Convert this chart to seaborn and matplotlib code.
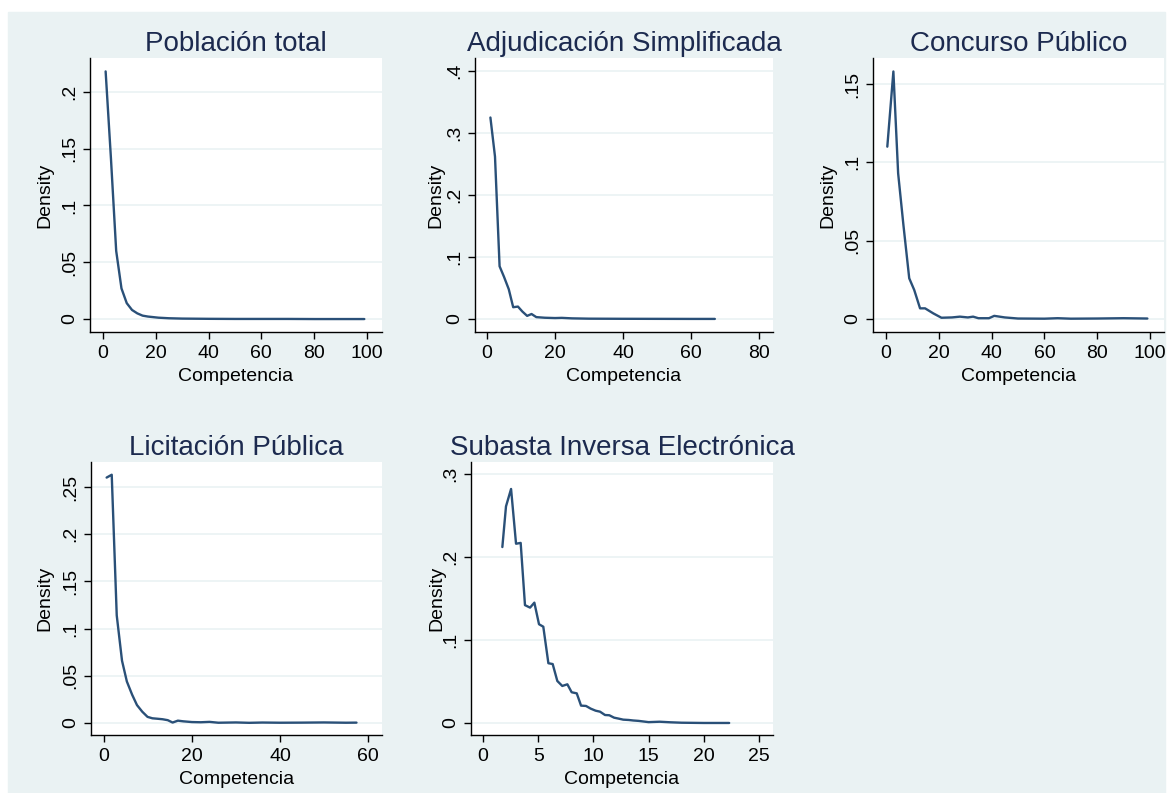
import matplotlib
matplotlib.use("Agg")
import matplotlib.pyplot as plt
from matplotlib.patches import Rectangle
from matplotlib.ticker import FuncFormatter
import seaborn as sns

sns.set_theme(style="white")
plt.rcParams['font.family'] = ['Liberation Sans', 'DejaVu Sans']

# Density curves of "Competencia" by procurement type
pob_x = [1, 3, 5, 7, 9, 11, 13, 15, 17, 19, 21, 25, 30, 40, 50, 60, 70, 80, 90, 99]
pob_y = [.218, .142, .06, .027, .014, .008, .005, .003, .0022, .0017, .0012,
         .0007, .0004, .0002, .0001, .0001, .0001, 0, 0, 0]

adj_x = [1.0, 2.35, 3.7, 5.0, 6.4, 7.7, 9.1, 10.4, 11.8, 13.1, 14.5, 17, 20,
         22, 25, 30, 40, 50, 60, 67]
adj_y = [.325, .262, .085, .068, .048, .019, .02, .012, .005, .008, .003, .002,
         .0015, .0018, .001, .0005, .0003, .0002, .0001, .0001]

con_x = [0.5, 2.8, 4.6, 6.6, 8.8, 10.7, 12.9, 14.8, 17.9, 21, 25, 28, 31, 33,
         35, 39, 41, 45, 50, 60, 65, 70, 80, 90, 99]
con_y = [.110, .158, .093, .06, .026, .0185, .0068, .0068, .0036, .0008, .001,
         .0015, .001, .0015, .0005, .0005, .002, .001, .0003, .0002, .0005,
         .0002, .0003, .0005, .0003]

lic_x = [0.6, 1.76, 2.9, 4.1, 5.2, 6.4, 7.5, 8.7, 9.9, 11.0, 12.2, 13.3, 14.5,
         15.6, 16.8, 18, 20, 22, 24, 26, 30, 33, 36, 40, 45, 50, 55, 57.4]
lic_y = [.26, .263, .114, .066, .044, .03, .019, .012, .0065, .005, .0045, .004,
         .003, .0005, .0025, .0018, .001, .0008, .0012, .0003, .0006, .0002,
         .0005, .0003, .0004, .0006, .0003, .0004]

sub_x = [1.75, 2.08, 2.54, 2.99, 3.41, 3.80, 4.26, 4.65, 5.07, 5.46, 5.92, 6.31,
         6.73, 7.18, 7.64, 8.03, 8.49, 8.88, 9.33, 9.75, 10.2, 10.6, 11.05,
         11.44, 11.87, 12.3, 12.7, 13.2, 13.6, 14.1, 15.0, 16.0, 17.0, 18.0,
         20.0, 22.3]
sub_y = [.212, .261, .282, .216, .217, .142, .139, .145, .119, .116, .072, .071,
         .0506, .0446, .0466, .037, .0357, .0209, .0205, .0173, .0148, .0136,
         .0096, .0093, .0064, .0052, .004, .0036, .003, .0025, .001, .0015,
         .0008, .0003, 0, 0]

titles = ["Población total", "Adjudicación Simplificada", "Concurso Público",
          "Licitación Pública", "Subasta Inversa Electrónica"]
series = [(pob_x, pob_y), (adj_x, adj_y), (con_x, con_y), (lic_x, lic_y), (sub_x, sub_y)]
xticks = [range(0, 101, 20), range(0, 81, 20), range(0, 101, 20),
          range(0, 61, 20), range(0, 26, 5)]
yticks = [[0, .05, .1, .15, .2], [0, .1, .2, .3, .4], [0, .05, .1, .15],
          [0, .05, .1, .15, .2, .25], [0, .1, .2, .3]]
xlims = [(-4.92, 105.7), (-3.53, 84.1), (-4.92, 105.3), (-2.95, 63.2), (-1.09, 26.27)]
ylims = [(-.0114, .2298), (-.021, .421), (-.0083, .1666), (-.0127, .2765), (-.0145, .3145)]

# axes boxes in pixels: left, top, right, bottom
W, H = 1170, 793
boxes = [(90, 58, 382, 332), (475, 58, 773, 332), (873, 58, 1164, 332),
         (91, 462, 382, 735), (471, 462, 773, 735)]
ylab_off = [45, 39, 45, 46, 34]

BG = '#EAF2F3'
LINE = '#2a5078'
TXT = '#1c2a4f'

fig = plt.figure(figsize=(W / 100, H / 100), dpi=100, facecolor='white')
fig.patches.append(Rectangle((8 / W, 0), (1165 - 8) / W, (H - 12) / H,
                             transform=fig.transFigure, color=BG, zorder=-1))


def stata_fmt(v, pos):
    if abs(v) < 1e-12:
        return '0'
    s = ('%g' % v)
    return s[1:] if s.startswith('0.') else s


for i in range(5):
    l, t, r, b = boxes[i]
    ax = fig.add_axes([l / W, 1 - b / H, (r - l) / W, (b - t) / H])
    ax.set_facecolor('white')
    x, y = series[i]
    sns.lineplot(x=x, y=y, ax=ax, color=LINE, linewidth=1.7)
    ax.set_xlim(*xlims[i])
    ax.set_ylim(*ylims[i])
    ax.set_xticks(list(xticks[i]))
    ax.set_yticks(yticks[i])
    ax.yaxis.set_major_formatter(FuncFormatter(stata_fmt))
    ax.grid(axis='y', color=BG, linewidth=1.2)
    ax.grid(axis='x', visible=False)
    for side in ['top', 'right']:
        ax.spines[side].set_visible(False)
    for side in ['left', 'bottom']:
        ax.spines[side].set_color('black')
        ax.spines[side].set_linewidth(1.0)
    ax.tick_params(axis='both', direction='out', length=5, width=1, color='black',
                   labelsize=14, labelcolor='black', pad=4.5,
                   bottom=True, left=True)
    ax.tick_params(axis='y', labelrotation=90, pad=3.5)
    for lab in ax.get_yticklabels():
        lab.set_va('center')
    ax.set_title(titles[i], fontsize=20, color=TXT, pad=5)
    ax.set_xlabel('Competencia', fontsize=14, color='black', labelpad=4)
    ax.set_ylabel('Density', fontsize=14, color='black')
    ax.yaxis.set_label_coords(-ylab_off[i] / (r - l), 0.5)
    ax.yaxis.label.set_va('center')

fig.savefig('out.png', dpi=100, facecolor=fig.get_facecolor())
